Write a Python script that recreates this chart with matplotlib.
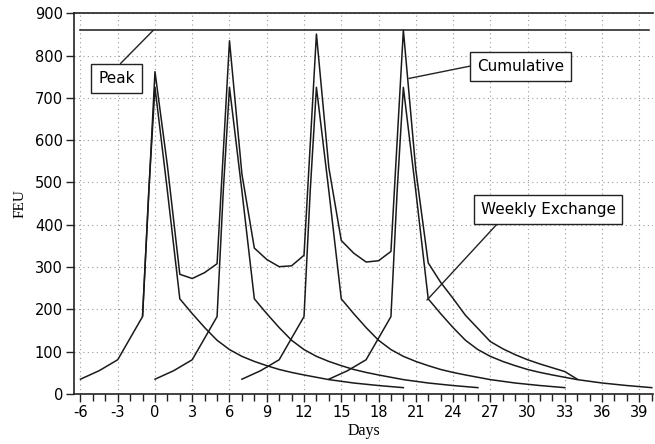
import matplotlib
matplotlib.use('Agg')
import matplotlib.pyplot as plt
import numpy as np

# one weekly exchange: days after the first box arrives -> FEU on the terminal
PROFILE_DAYS = [0, 1.5, 3, 5, 5.5, 6, 7, 8, 9, 10, 11, 12, 13, 14, 15, 16, 17, 18, 20, 22, 24, 26]
PROFILE_FEU = [35, 55, 81, 183, 480, 725, 480, 225, 190, 157, 127, 105, 89, 77, 67, 58, 51, 45, 34, 26, 20, 15]
WEEK_STARTS = [-6, 0, 7, 14]

# cumulative FEU (all weeks together)
CUM_DAYS = list(range(-1, 35))
CUM_FEU = [185, 762, 540, 283, 273, 287, 308, 835, 520, 345, 318, 301, 303, 328,
           851, 535, 363, 333, 312, 315, 337, 860, 530, 310, 264, 226, 186, 155,
           124, 107, 93, 81, 71, 62, 53, 35]

PEAK_FEU = 860
PEAK_SPAN = [-6, 39.8]

plt.rcParams['font.family'] = 'DejaVu Sans'
plt.rcParams['axes.unicode_minus'] = False

fig = plt.figure(figsize=(6.55, 4.44), dpi=100)
ax = fig.add_axes([74 / 655, 50 / 444, 579 / 655, 380.7 / 444])

line_kw = dict(color='#1a1a1a', lw=1.1)
for start in WEEK_STARTS:
    ax.plot(np.array(PROFILE_DAYS) + start, PROFILE_FEU, **line_kw)
ax.plot(CUM_DAYS, CUM_FEU, **line_kw)
ax.plot(PEAK_SPAN, [PEAK_FEU, PEAK_FEU], **line_kw)

ax.set_xlim(-6.52, 40.1)
ax.set_ylim(0, 900)
ax.set_xticks(np.arange(-6, 40, 3))
ax.set_xticks(np.arange(-6, 41, 1), minor=True)
ax.set_yticks(np.arange(0, 901, 100))
ax.tick_params(axis='both', which='major', length=6, width=1, labelsize=10.5, pad=2, color='#222222')
ax.tick_params(axis='x', which='minor', length=5, width=1, color='#222222')
ax.grid(True, which='major', color='#9a9a9a', linestyle=(0, (1, 3)), lw=0.8)
ax.set_axisbelow(True)

for side in ['left', 'bottom', 'top']:
    ax.spines[side].set_linewidth(1.2)
    ax.spines[side].set_color('#222222')
ax.spines['right'].set_visible(False)

ax.set_xlabel('Days', family='Liberation Serif', fontsize=11.5, labelpad=2)
ax.set_ylabel('FEU', family='Liberation Serif', fontsize=11, labelpad=6)

box = dict(boxstyle='square,pad=0.45', fc='white', ec='#222222', lw=1)
arrow = dict(arrowstyle='-', color='#222222', lw=1, shrinkA=0, shrinkB=0)

ax.annotate('Peak', xy=(-0.13, PEAK_FEU), xytext=(-3.1, 746), fontsize=11,
            ha='center', va='center', bbox=box,
            arrowprops=dict(arrow, relpos=(0.41, 1)))
ax.annotate('Cumulative', xy=(20.45, 746), xytext=(29.45, 775), fontsize=11,
            ha='center', va='center', bbox=box,
            arrowprops=dict(arrow, relpos=(0, 0.6)))
ax.annotate('Weekly Exchange', xy=(21.9, 222), xytext=(31.65, 436), fontsize=11,
            ha='center', va='center', bbox=box,
            arrowprops=dict(arrow, relpos=(0.17, 0)))

fig.savefig('out.png', dpi=100)
